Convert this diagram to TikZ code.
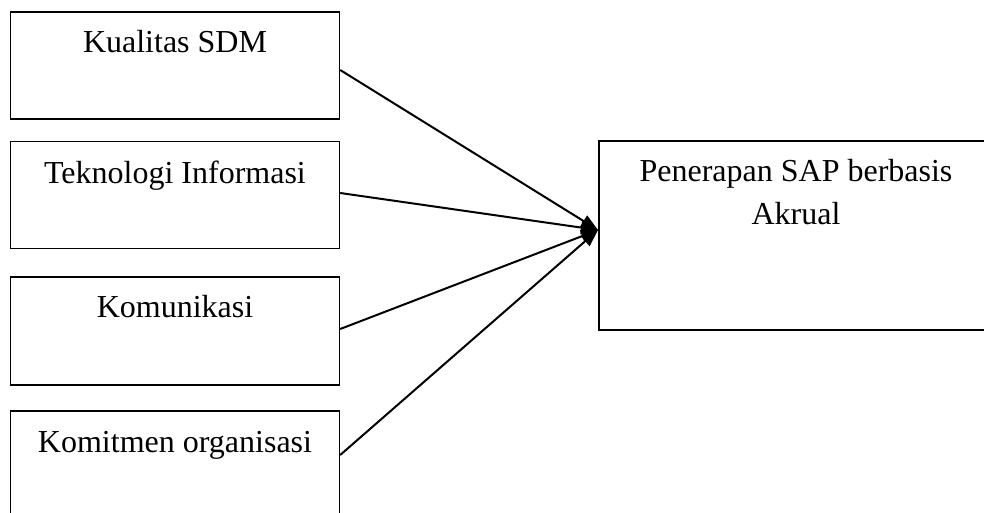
\documentclass[tikz,border=0pt]{standalone}
\usepackage{fontspec}
\setmainfont{Liberation Serif}
\usetikzlibrary{arrows.meta}
\begin{document}
\begin{tikzpicture}[x=1pt,y=-1pt,
  box/.style={draw,line width=1.4pt,rectangle,inner sep=0pt},
  lbl/.style={inner sep=0pt,anchor=base,font=\fontsize{32}{42}\selectfont},
  conn/.style={line width=2pt,-{Triangle[length=17pt,width=13pt]}}]
\useasboundingbox (0,0) rectangle (984,513);
\node[box,minimum width=329pt,minimum height=107pt] (b1) at (175,65.5) {};
\node[box,minimum width=329pt,minimum height=107pt] (b2) at (175,195) {};
\node[box,minimum width=329pt,minimum height=108pt] (b3) at (175,331) {};
\node[box,minimum width=329pt,minimum height=108pt] (b4) at (175,465) {};
\node[box,minimum width=394pt,minimum height=189pt] (r) at (796,235.5) {};
\node[lbl] (t1) at (175,53) {Kualitas SDM};
\node[lbl] (t2) at (175,183) {Teknologi Informasi};
\node[lbl] (t3) at (175,317) {Komunikasi};
\node[lbl] (t4) at (175,452) {Komitmen organisasi};
\node[lbl] (tr1) at (796,182) {Penerapan SAP berbasis};
\node[lbl] (tr2) at (796,224) {Akrual};
\coordinate (tip) at (598,230);
\draw[conn] ([yshift=-4.5pt]b1.east) -- (tip);
\draw[conn] ([yshift=2pt]b2.east) -- (tip);
\draw[conn] ([yshift=2pt]b3.east) -- (tip);
\draw[conn] ([yshift=10pt]b4.east) -- (tip);
\end{tikzpicture}
\end{document}
